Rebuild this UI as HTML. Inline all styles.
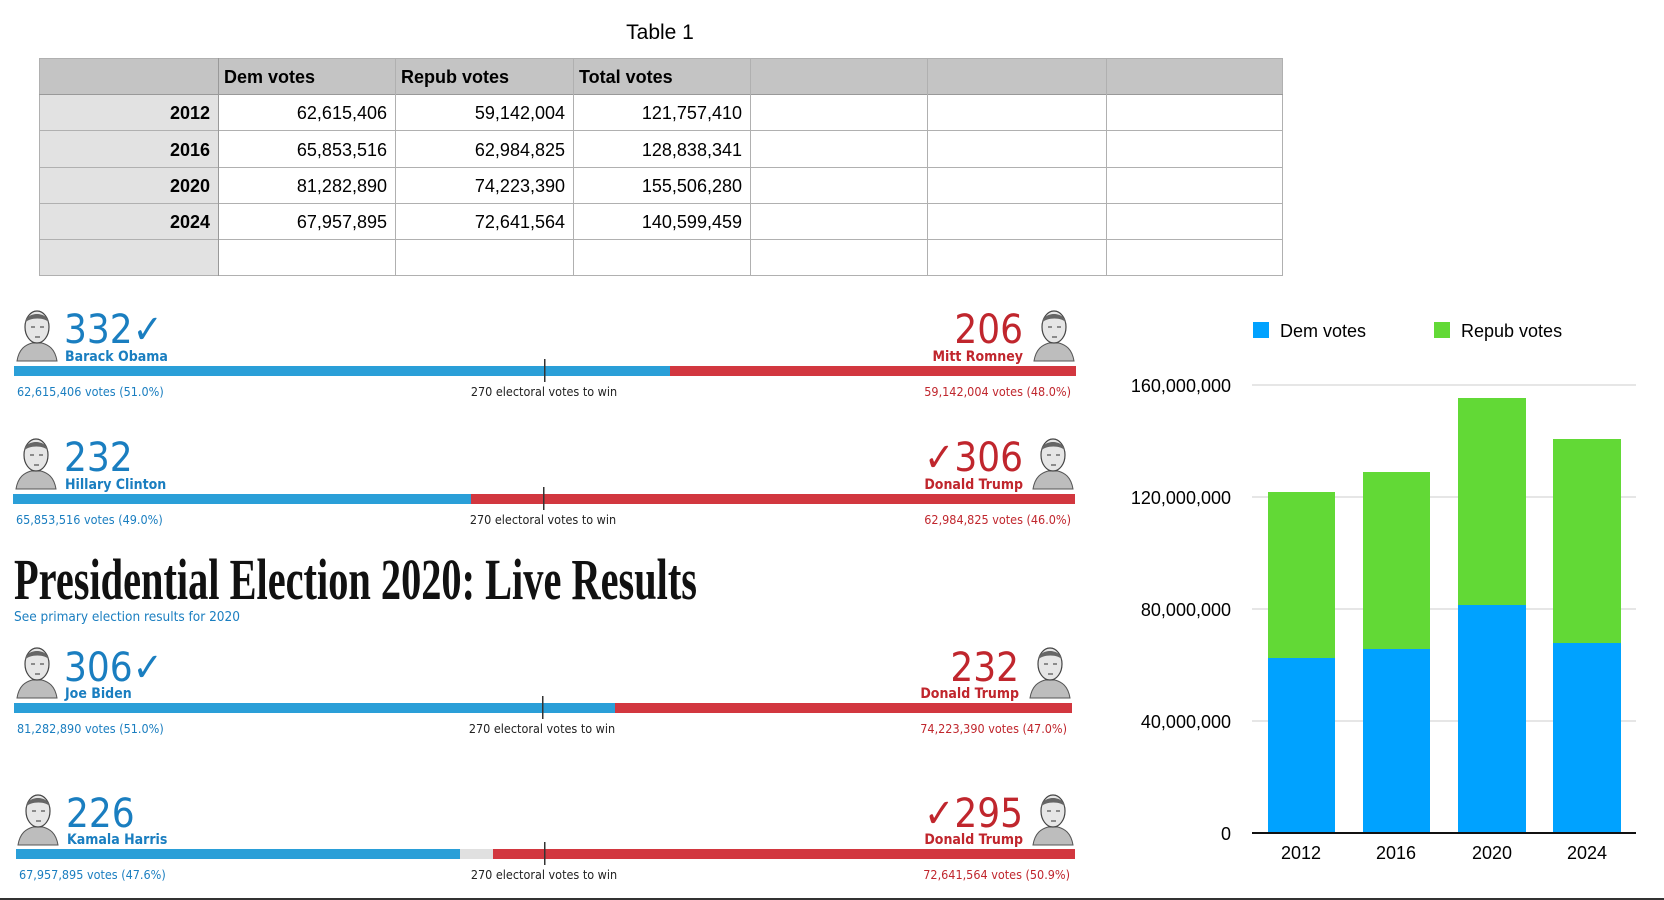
<!DOCTYPE html>
<html><head><meta charset="utf-8"><style>
html,body{margin:0;padding:0;background:#fff;}
svg{display:block;}
</style></head><body>
<svg width="1664" height="900" viewBox="0 0 1664 900" xmlns="http://www.w3.org/2000/svg" font-family="Liberation Sans, sans-serif">
<defs>
<g id="face">
<path d="M4 56 C6 44 12 40 19 38 L29 38 C36 40 42 44 44 56 Z" fill="#bdbdbd" stroke="#555" stroke-width="1"/>
<ellipse cx="24" cy="22" rx="12" ry="16" fill="#e6e6e6" stroke="#444" stroke-width="1.2"/>
<path d="M12 18 C13 6 35 6 36 18 C33 12 16 12 12 18Z" fill="#666"/>
<path d="M18 22h4M27 22h4M22 32h5" stroke="#555" stroke-width="1.2"/>
</g>
</defs>
<!-- Table -->
<text x="660" y="39" font-size="21" text-anchor="middle" fill="#000">Table 1</text>
<rect x="39" y="58" width="1244" height="36" fill="#c4c4c4"/>
<rect x="39" y="94" width="179" height="182" fill="#e2e2e2"/>
<g stroke="#b0b0b0" stroke-width="1" fill="none">
<rect x="39.5" y="58.5" width="1243" height="217"/>
<line x1="39" y1="94.5" x2="1283" y2="94.5" stroke="#999"/>
<line x1="39" y1="130.5" x2="1283" y2="130.5"/>
<line x1="39" y1="167.5" x2="1283" y2="167.5"/>
<line x1="39" y1="203.5" x2="1283" y2="203.5"/>
<line x1="39" y1="239.5" x2="1283" y2="239.5"/>
<line x1="218.5" y1="58" x2="218.5" y2="276" stroke="#999"/>
<line x1="395.5" y1="58" x2="395.5" y2="276"/>
<line x1="573.5" y1="58" x2="573.5" y2="276"/>
<line x1="750.5" y1="58" x2="750.5" y2="276"/>
<line x1="927.5" y1="58" x2="927.5" y2="276"/>
<line x1="1106.5" y1="58" x2="1106.5" y2="276"/>
</g>
<g font-size="18" fill="#000">
<g font-weight="bold"><text x="224" y="83">Dem votes</text><text x="401" y="83">Repub votes</text><text x="579" y="83">Total votes</text></g>
<g font-weight="bold" text-anchor="end"><text x="210" y="119">2012</text><text x="210" y="156">2016</text><text x="210" y="192">2020</text><text x="210" y="228">2024</text></g>
<g text-anchor="end">
<text x="387" y="119">62,615,406</text><text x="565" y="119">59,142,004</text><text x="742" y="119">121,757,410</text>
<text x="387" y="156">65,853,516</text><text x="565" y="156">62,984,825</text><text x="742" y="156">128,838,341</text>
<text x="387" y="192">81,282,890</text><text x="565" y="192">74,223,390</text><text x="742" y="192">155,506,280</text>
<text x="387" y="228">67,957,895</text><text x="565" y="228">72,641,564</text><text x="742" y="228">140,599,459</text>
</g></g>

<!-- Row 1 -->
<use href="#face" x="13" y="305"/>
<use href="#face" x="1030" y="305"/>
<g font-family="DejaVu Sans Condensed, DejaVu Sans, sans-serif">
<text x="64" y="343" font-size="40" fill="#1a7ec0">332✓</text>
<text x="65" y="361" font-size="14" font-weight="bold" fill="#1a7ec0">Barack Obama</text>
<text x="1023" y="343" font-size="40" fill="#c0262d" text-anchor="end">206</text>
<text x="1023" y="361" font-size="14" font-weight="bold" fill="#c0262d" text-anchor="end">Mitt Romney</text>
<rect x="14" y="366" width="656" height="10" fill="#2a9fd8"/><rect x="670" y="366" width="406" height="10" fill="#d2373f"/>
<rect x="544" y="359" width="1.5" height="23" fill="#333"/>
<text x="17" y="396" font-size="12.5" fill="#1a7ec0">62,615,406 votes (51.0%)</text>
<text x="544" y="396" font-size="12.5" fill="#222" text-anchor="middle">270 electoral votes to win</text>
<text x="1071" y="396" font-size="12.5" fill="#c0262d" text-anchor="end">59,142,004 votes (48.0%)</text>

<!-- Row 2 -->
<use href="#face" x="12" y="433"/>
<use href="#face" x="1029" y="433"/>
<text x="64" y="471" font-size="40" fill="#1a7ec0">232</text>
<text x="65" y="489" font-size="14" font-weight="bold" fill="#1a7ec0">Hillary Clinton</text>
<text x="1023" y="471" font-size="40" fill="#c0262d" text-anchor="end">✓306</text>
<text x="1023" y="489" font-size="14" font-weight="bold" fill="#c0262d" text-anchor="end">Donald Trump</text>
<rect x="13" y="494" width="458" height="10" fill="#2a9fd8"/><rect x="471" y="494" width="604" height="10" fill="#d2373f"/>
<rect x="543" y="487" width="1.5" height="23" fill="#333"/>
<text x="16" y="524" font-size="12.5" fill="#1a7ec0">65,853,516 votes (49.0%)</text>
<text x="543" y="524" font-size="12.5" fill="#222" text-anchor="middle">270 electoral votes to win</text>
<text x="1071" y="524" font-size="12.5" fill="#c0262d" text-anchor="end">62,984,825 votes (46.0%)</text>

<!-- Title -->
<text x="14" y="599" font-family="Liberation Serif, serif" font-weight="bold" font-size="58" fill="#111" textLength="683" lengthAdjust="spacingAndGlyphs">Presidential Election 2020: Live Results</text>
<text x="14" y="621" font-size="13.5" fill="#1a7ec0">See primary election results for 2020</text>

<!-- Row 3 -->
<use href="#face" x="13" y="642"/>
<use href="#face" x="1026" y="642"/>
<text x="64" y="681" font-size="40" fill="#1a7ec0">306✓</text>
<text x="65" y="698" font-size="14" font-weight="bold" fill="#1a7ec0">Joe Biden</text>
<text x="1019" y="681" font-size="40" fill="#c0262d" text-anchor="end">232</text>
<text x="1019" y="698" font-size="14" font-weight="bold" fill="#c0262d" text-anchor="end">Donald Trump</text>
<rect x="14" y="703" width="601" height="10" fill="#2a9fd8"/><rect x="615" y="703" width="457" height="10" fill="#d2373f"/>
<rect x="542" y="696" width="1.5" height="23" fill="#333"/>
<text x="17" y="733" font-size="12.5" fill="#1a7ec0">81,282,890 votes (51.0%)</text>
<text x="542" y="733" font-size="12.5" fill="#222" text-anchor="middle">270 electoral votes to win</text>
<text x="1067" y="733" font-size="12.5" fill="#c0262d" text-anchor="end">74,223,390 votes (47.0%)</text>

<!-- Row 4 -->
<use href="#face" x="14" y="789"/>
<use href="#face" x="1029" y="789"/>
<text x="66" y="827" font-size="40" fill="#1a7ec0">226</text>
<text x="67" y="844" font-size="14" font-weight="bold" fill="#1a7ec0">Kamala Harris</text>
<text x="1023" y="827" font-size="40" fill="#c0262d" text-anchor="end">✓295</text>
<text x="1023" y="844" font-size="14" font-weight="bold" fill="#c0262d" text-anchor="end">Donald Trump</text>
<rect x="16" y="849" width="444" height="10" fill="#2a9fd8"/><rect x="460" y="849" width="33" height="10" fill="#e0e0e0"/><rect x="493" y="849" width="582" height="10" fill="#d2373f"/>
<rect x="544" y="842" width="1.5" height="23" fill="#333"/>
<text x="19" y="879" font-size="12.5" fill="#1a7ec0">67,957,895 votes (47.6%)</text>
<text x="544" y="879" font-size="12.5" fill="#222" text-anchor="middle">270 electoral votes to win</text>
<text x="1070" y="879" font-size="12.5" fill="#c0262d" text-anchor="end">72,641,564 votes (50.9%)</text>
</g>

<!-- Chart -->
<rect x="1253" y="322" width="16" height="16" fill="#00a2ff"/>
<text x="1280" y="337" font-size="18" fill="#000">Dem votes</text>
<rect x="1434" y="322" width="16" height="16" fill="#62d936"/>
<text x="1461" y="337" font-size="18" fill="#000">Repub votes</text>
<g stroke="#d6d6d6" stroke-width="1.2">
<line x1="1252" y1="385" x2="1636" y2="385"/><line x1="1252" y1="497" x2="1636" y2="497"/>
<line x1="1252" y1="609" x2="1636" y2="609"/><line x1="1252" y1="721" x2="1636" y2="721"/>
</g>
<g font-size="18" fill="#000" text-anchor="end">
<text x="1231" y="392">160,000,000</text><text x="1231" y="504">120,000,000</text>
<text x="1231" y="616">80,000,000</text><text x="1231" y="728">40,000,000</text><text x="1231" y="840">0</text>
</g>
<rect x="1268" y="492" width="67" height="166" fill="#62d936"/><rect x="1268" y="658" width="67" height="175" fill="#00a2ff"/>
<rect x="1363" y="472" width="67" height="177" fill="#62d936"/><rect x="1363" y="649" width="67" height="184" fill="#00a2ff"/>
<rect x="1458" y="398" width="68" height="207" fill="#62d936"/><rect x="1458" y="605" width="68" height="228" fill="#00a2ff"/>
<rect x="1553" y="439" width="68" height="204" fill="#62d936"/><rect x="1553" y="643" width="68" height="190" fill="#00a2ff"/>
<rect x="1252" y="832" width="384" height="2" fill="#111"/>
<g font-size="18" fill="#000" text-anchor="middle">
<text x="1301" y="859">2012</text><text x="1396" y="859">2016</text><text x="1492" y="859">2020</text><text x="1587" y="859">2024</text>
</g>
<rect x="0" y="898" width="1664" height="2" fill="#333"/>
</svg>
</body></html>
